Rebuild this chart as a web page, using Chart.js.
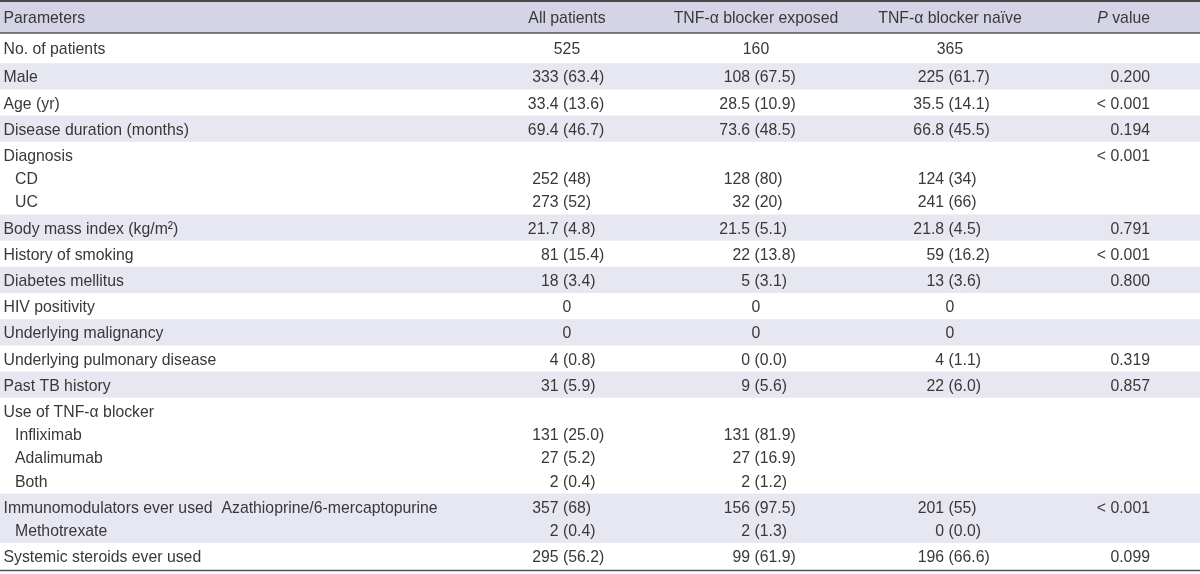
<!DOCTYPE html>
<html>
<head>
<meta charset="utf-8">
<script src="https://cdn.jsdelivr.net/npm/chart.js@4/dist/chart.umd.min.js"></script>
<style>
  html, body { margin: 0; padding: 0; background: #ffffff; }
  canvas { display: block; }
</style>
</head>
<body>
<canvas id="c" width="1200" height="574"></canvas>
<script>
// ---------- table content ----------
const headerLabels = ["Parameters", "All patients", "TNF-\u03b1 blocker exposed", "TNF-\u03b1 blocker na\u00efve", "P value"];

const rowLabels = [
  "No. of patients", "Male", "Age (yr)", "Disease duration (months)",
  "Diagnosis", "CD", "UC",
  "Body mass index (kg/m\u00b2)", "History of smoking", "Diabetes mellitus",
  "HIV positivity", "Underlying malignancy", "Underlying pulmonary disease", "Past TB history",
  "Use of TNF-\u03b1 blocker", "Infliximab", "Adalimumab", "Both",
  "Immunomodulators ever used  Azathioprine/6-mercaptopurine", "Methotrexate",
  "Systemic steroids ever used"
];
const rowIndent = [0,0,0,0, 0,1,1, 0,0,0, 0,0,0,0, 0,1,1,1, 0,1, 0];
const rowGroup  = [0,1,2,3, 4,4,4, 5,6,7, 8,9,10,11, 12,12,12,12, 13,13, 14];

const allPatients = ["525","333 (63.4)","33.4 (13.6)","69.4 (46.7)","","252 (48)","273 (52)","21.7 (4.8)","81 (15.4)","18 (3.4)","0","0","4 (0.8)","31 (5.9)","","131 (25.0)","27 (5.2)","2 (0.4)","357 (68)","2 (0.4)","295 (56.2)"];
const tnfExposed  = ["160","108 (67.5)","28.5 (10.9)","73.6 (48.5)","","128 (80)","32 (20)","21.5 (5.1)","22 (13.8)","5 (3.1)","0","0","0 (0.0)","9 (5.6)","","131 (81.9)","27 (16.9)","2 (1.2)","156 (97.5)","2 (1.3)","99 (61.9)"];
const tnfNaive    = ["365","225 (61.7)","35.5 (14.1)","66.8 (45.5)","","124 (34)","241 (66)","21.8 (4.5)","59 (16.2)","13 (3.6)","0","0","4 (1.1)","22 (6.0)","","","","","201 (55)","0 (0.0)","196 (66.6)"];
const pValues     = ["","0.200","< 0.001","0.194","< 0.001","","","0.791","< 0.001","0.800","","","0.319","0.857","","","","","< 0.001","","0.099"];

// ---------- layout (table units) ----------
const HEADER_H = 33, LINE_H = 23.2, PAD = 3, FIRST_EXTRA = 4, LAST_EXTRA = 2;
const colCenter = [567, 756, 950];     // centred plain values / headers
const colParen  = [563, 754.5, 948.5]; // "(" alignment
const pRight = 1150, labelLeft = 3.5, indentLeft = 15;

const FONT = '17px "Liberation Sans", Arial, sans-serif';
const FONT_I = 'italic 17px "Liberation Sans", Arial, sans-serif';
const HSCALE = 0.93;
const TEXT = '#383838';
const HEAD_BG = '#d4d4e6';
const BAND_BG = '#e7e7f1';

// group geometry derived from the line/group structure
const groups = [];
const lineCenter = [];
(function () {
  let y = HEADER_H;
  const nG = Math.max(...rowGroup) + 1;
  for (let g = 0; g < nG; g++) {
    const idx = rowGroup.map((v, i) => v === g ? i : -1).filter(i => i >= 0);
    const extra = g === 0 ? FIRST_EXTRA : 0;
    const tail = g === nG - 1 ? LAST_EXTRA : 0;
    const h = idx.length * LINE_H + PAD + extra + tail;
    idx.forEach((li, k) => { lineCenter[li] = y + extra / 2 + PAD / 2 + (k + 0.5) * LINE_H; });
    groups.push({ top: y, bottom: y + h, shaded: g % 2 === 1 });
    y += h;
  }
  groups.total = y;
})();
const TOTAL = groups.total;

function txt(ctx, s, x, y, align) {
  ctx.save();
  ctx.translate(x, y);
  ctx.scale(HSCALE, 1);
  ctx.textAlign = align;
  ctx.fillText(s, 0, 0);
  ctx.restore();
}
function tw(ctx, s) { return ctx.measureText(s).width * HSCALE; }

const tablePlugin = {
  id: 'tablePlugin',
  beforeDatasetsDraw(chart) {
    const ctx = chart.ctx, xs = chart.scales.x, ys = chart.scales.y;
    const X = v => xs.getPixelForValue(v), Y = v => ys.getPixelForValue(v);
    const left = X(0), right = X(1200);
    ctx.save();
    // header band
    ctx.fillStyle = HEAD_BG;
    ctx.fillRect(left, Y(0), right - left, Y(HEADER_H) - Y(0));
    // alternate bands
    ctx.fillStyle = BAND_BG;
    groups.forEach(g => { if (g.shaded) ctx.fillRect(left, Y(g.top), right - left, Y(g.bottom) - Y(g.top)); });
    // rules
    ctx.strokeStyle = '#4a4a4a';
    ctx.lineWidth = 2;
    ctx.beginPath(); ctx.moveTo(left, Y(0) + 1); ctx.lineTo(right, Y(0) + 1); ctx.stroke();
    ctx.lineWidth = 1.5;
    ctx.strokeStyle = '#555555';
    ctx.beginPath(); ctx.moveTo(left, Y(HEADER_H)); ctx.lineTo(right, Y(HEADER_H)); ctx.stroke();
    ctx.beginPath(); ctx.moveTo(left, Y(TOTAL) - 0.75); ctx.lineTo(right, Y(TOTAL) - 0.75); ctx.stroke();

    // text
    ctx.fillStyle = TEXT;
    ctx.textBaseline = 'alphabetic';
    ctx.font = FONT;
    const capHalf = 6.1;
    const base = v => Y(v) + capHalf;

    // header
    const hb = base(HEADER_H / 2);
    txt(ctx, headerLabels[0], X(labelLeft), hb, 'left');
    for (let c = 0; c < 3; c++) txt(ctx, headerLabels[c + 1], X(colCenter[c]), hb, 'center');
    // P value with italic P
    const pv = headerLabels[4];
    const rest = pv.slice(1);
    txt(ctx, rest, X(pRight), hb, 'right');
    const wRest = tw(ctx, rest);
    ctx.font = FONT_I;
    txt(ctx, pv[0], X(pRight) - wRest, hb, 'right');
    ctx.font = FONT;

    const cols = [allPatients, tnfExposed, tnfNaive];
    rowLabels.forEach((lab, i) => {
      const b = base(lineCenter[i]);
      txt(ctx, lab, X(rowIndent[i] ? indentLeft : labelLeft), b, 'left');
      cols.forEach((arr, c) => {
        const s = arr[i];
        if (!s) return;
        const k = s.indexOf(' (');
        if (k < 0) {
          txt(ctx, s, X(colCenter[c]), b, 'center');
        } else {
          const n = s.slice(0, k), p = s.slice(k + 1);
          txt(ctx, p, X(colParen[c]), b, 'left');
          txt(ctx, n, X(colParen[c]) - tw(ctx, ' '), b, 'right');
        }
      });
      if (pValues[i]) txt(ctx, pValues[i], X(pRight), b, 'right');
    });
    ctx.restore();
  }
};

new Chart(document.getElementById('c').getContext('2d'), {
  type: 'scatter',
  data: { datasets: [{ data: [], pointRadius: 0 }] },
  options: {
    responsive: false,
    animation: false,
    devicePixelRatio: 1,
    events: [],
    layout: { padding: { left: 0, right: 0, top: 0, bottom: 574 - TOTAL } },
    plugins: { legend: { display: false }, tooltip: { enabled: false }, title: { display: false } },
    scales: {
      x: { type: 'linear', min: 0, max: 1200, display: false },
      y: { type: 'linear', min: 0, max: TOTAL, reverse: true, display: false }
    }
  },
  plugins: [tablePlugin]
});
</script>
</body>
</html>
